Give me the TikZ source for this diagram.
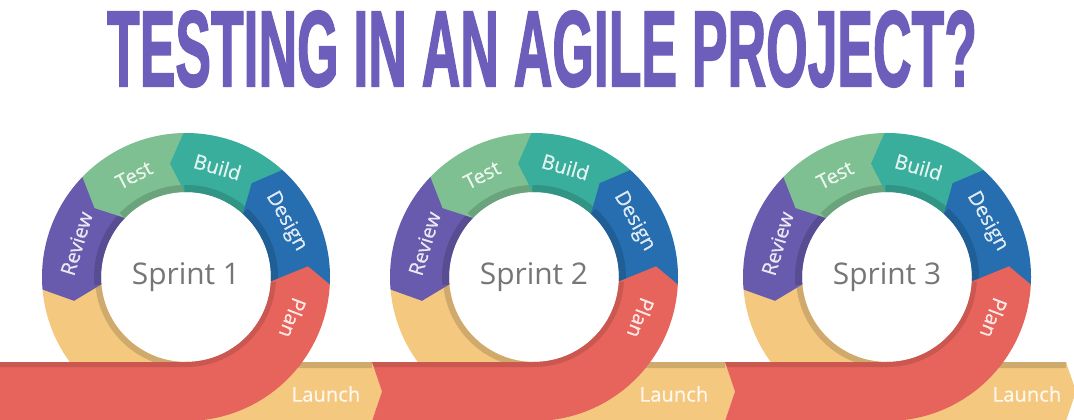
\documentclass[tikz,border=0pt]{standalone}
\usepackage{fontspec}
\usepackage{graphicx}
\usepackage{tikz}
\usetikzlibrary{calc}
\setmainfont{Open Sans}
\newfontfamily\titlefont[FakeBold=2]{Liberation Sans}
\newfontfamily\labelfont[FakeBold=0.6]{Open Sans}

\definecolor{titlepurple}{RGB}{108,94,186}
\definecolor{reviewcol}{RGB}{104,90,172}
\definecolor{testcol}{RGB}{126,192,146}
\definecolor{buildcol}{RGB}{58,174,156}
\definecolor{designcol}{RGB}{38,110,176}
\definecolor{plancol}{RGB}{230,100,92}
\definecolor{launchcol}{RGB}{245,200,128}
\definecolor{sprintgray}{RGB}{118,118,118}

\newcommand{\Rout}{144}
\newcommand{\Rin}{85}
\newcommand{\Rmid}{114.5}

\tikzset{
  seglabel/.style={text=white, text opacity=0.85, font=\labelfont\fontsize{11.5}{12}\selectfont, inner sep=0pt},
  sprintlabel/.style={text=sprintgray, font=\fontsize{17}{18}\selectfont, inner sep=0pt}
}

% one piece of the ring: colour, from angle, to angle (arrow tip at the end)
\newcommand{\ringpiece}[3]{%
  \fill[#1] (#2:\Rout) arc[start angle=#2, end angle=#3, radius=\Rout]
    -- ({#3+7}:\Rmid) -- (#3:\Rin) arc[start angle=#3, end angle=#2, radius=\Rin] -- cycle;
  \fill[#1!85!black] (#2:\Rin) arc[start angle=#2, end angle=#3, radius=\Rin]
    -- ({#3}:{\Rin+7}) arc[start angle=#3, end angle=#2, radius=\Rin+7] -- cycle;
}

\begin{document}
\begin{tikzpicture}[x=0.02cm, y=0.02cm]
    \useasboundingbox (0,0) rectangle (1074,419);
    \fill[white] (0,0) rectangle (1074,419);
    \clip (0,0) rectangle (1074,419);

    % Title
    \node[text=titlepurple, inner sep=0pt] (title) at (542,370)
        {\resizebox{17.4cm}{1.5cm}{\titlefont\bfseries TESTING IN AN AGILE PROJECT?}};

    % The three sprints
    \foreach \cx/\n/\xs/\xe in {186/1/-12/372, 534/2/372/725, 887/3/725/1066} {
        \begin{scope}[shift={(\cx,142)}]
            \pgfmathsetmacro{\xa}{\xs-\cx}
            \pgfmathsetmacro{\xb}{\xe-\cx}

            % Launch band, lying under the rest
            \fill[launchcol] (185:\Rout) arc[start angle=185, end angle=270, radius=\Rout]
                -- (\xb,-\Rout) -- ({\xb+10},-\Rmid) -- (\xb,-\Rin) -- (0,-\Rin)
                arc[start angle=270, end angle=185, radius=\Rin] -- cycle;
            \fill[launchcol!85!black] (185:\Rin) arc[start angle=185, end angle=270, radius=\Rin]
                -- (\xb,-\Rin) -- (\xb,{-\Rin-6}) -- (0,{-\Rin-6})
                arc[start angle=270, end angle=185, radius=\Rin+6] -- cycle;

            % Ring pieces, each over the one after it
            \ringpiece{reviewcol}{136}{185}
            \ringpiece{testcol}{91}{136}
            \ringpiece{buildcol}{48}{91}
            \ringpiece{designcol}{-3}{48}

            % Plan: red band coming in from the left and curling up
            \fill[plancol] (\xa,-\Rout) -- (0,-\Rout) arc[start angle=-90, end angle=-3, radius=\Rout]
                -- (5:\Rmid+8) -- (-3:\Rin) arc[start angle=-3, end angle=-90, radius=\Rin]
                -- (\xa,-\Rin) -- ({\xa+10},-\Rmid) -- cycle;
            \fill[plancol!88!black] (\xa,-\Rin) -- (0,-\Rin) arc[start angle=-90, end angle=-3, radius=\Rin]
                -- (-3:{\Rin+5}) arc[start angle=-3, end angle=-90, radius=\Rin+5]
                -- ({\xa+2},{-\Rin-5}) -- cycle;

            % Labels
            \node[sprintlabel] (sprint\n) at (0,0) {Sprint \n};
            \node[seglabel, rotate=73] (review\n) at (163:\Rmid) {Review};
            \node[seglabel, rotate=27] (test\n) at (117:\Rmid) {Test};
            \node[seglabel, rotate=-16] (build\n) at (74:\Rmid) {Build};
            \node[seglabel, rotate=-61] (design\n) at (29:\Rmid) {Design};
            \node[seglabel, rotate=-111] (plan\n) at (-21:\Rmid) {Plan};
            \node[seglabel] (launch\n) at (140,-117) {Launch};
        \end{scope}
    }
\end{tikzpicture}
\end{document}
